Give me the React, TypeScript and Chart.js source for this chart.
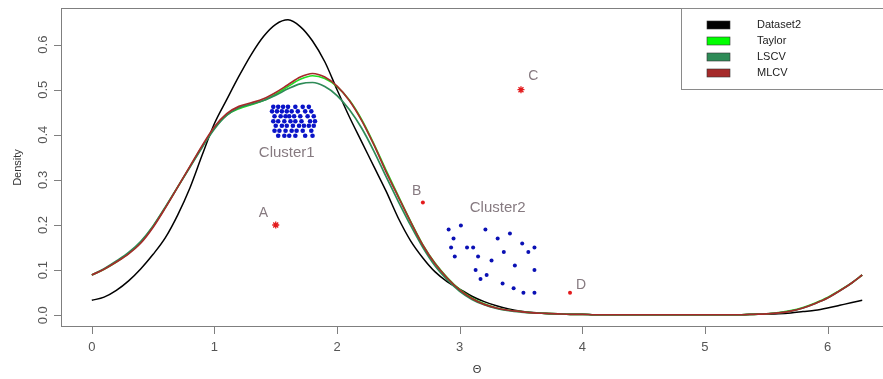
import React, { useEffect, useRef } from "react";
import { Chart, registerables } from "chart.js";
Chart.register(...registerables);

const thetaGrid = [
  0, 0.1, 0.2, 0.3, 0.4, 0.5, 0.6, 0.7, 0.8, 0.9,
  1.0, 1.1, 1.2, 1.3, 1.4, 1.5, 1.6, 1.7, 1.8, 1.9,
  2.0, 2.1, 2.2, 2.3, 2.4, 2.5, 2.6, 2.7, 2.8, 2.9,
  3.0, 3.1, 3.2, 3.3, 3.4, 3.5, 3.6, 3.7, 3.8, 3.9,
  4.0, 4.1, 4.2, 4.3, 4.4, 4.5, 4.6, 4.7, 4.8, 4.9,
  5.0, 5.1, 5.2, 5.3, 5.4, 5.5, 5.6, 5.7, 5.8, 5.9,
  6.0, 6.1, 6.2, 6.283,
];

const dataset2 = [
  0.033, 0.040, 0.055, 0.076, 0.103, 0.135, 0.172, 0.222, 0.282, 0.355,
  0.425, 0.478, 0.530, 0.578, 0.618, 0.645, 0.655, 0.640, 0.608, 0.562,
  0.500, 0.440, 0.385, 0.330, 0.275, 0.215, 0.165, 0.127, 0.096, 0.074,
  0.058, 0.042, 0.030, 0.021, 0.014, 0.009, 0.006, 0.004, 0.003, 0.002,
  0.002, 0.001, 0.001, 0.001, 0.001, 0.001, 0.001, 0.001, 0.001, 0.001,
  0.001, 0.001, 0.001, 0.001, 0.002, 0.002, 0.003, 0.005, 0.008, 0.011,
  0.016, 0.022, 0.028, 0.033,
];

const taylor = [
  0.089, 0.102, 0.118, 0.137, 0.162, 0.197, 0.239, 0.284, 0.329, 0.374,
  0.415, 0.444, 0.458, 0.467, 0.476, 0.490, 0.507, 0.523, 0.531, 0.525,
  0.507, 0.477, 0.434, 0.380, 0.321, 0.264, 0.208, 0.156, 0.115, 0.083,
  0.057, 0.038, 0.025, 0.016, 0.011, 0.008, 0.005, 0.004, 0.003, 0.002,
  0.002, 0.001, 0.001, 0.001, 0.001, 0.001, 0.001, 0.001, 0.001, 0.001,
  0.001, 0.001, 0.001, 0.001, 0.002, 0.003, 0.006, 0.010, 0.017, 0.027,
  0.039, 0.055, 0.072, 0.089,
];

const lscv = [
  0.089, 0.103, 0.120, 0.139, 0.164, 0.198, 0.240, 0.284, 0.328, 0.372,
  0.413, 0.443, 0.460, 0.468, 0.476, 0.488, 0.502, 0.513, 0.516, 0.507,
  0.487, 0.456, 0.415, 0.364, 0.307, 0.252, 0.199, 0.150, 0.109, 0.078,
  0.053, 0.035, 0.023, 0.015, 0.010, 0.007, 0.005, 0.004, 0.003, 0.002,
  0.002, 0.001, 0.001, 0.001, 0.001, 0.001, 0.001, 0.001, 0.001, 0.001,
  0.001, 0.001, 0.001, 0.001, 0.002, 0.003, 0.005, 0.009, 0.016, 0.026,
  0.038, 0.054, 0.072, 0.089,
];

const mlcv = [
  0.089, 0.102, 0.118, 0.136, 0.160, 0.195, 0.238, 0.284, 0.330, 0.376,
  0.418, 0.447, 0.463, 0.471, 0.480, 0.494, 0.511, 0.528, 0.536, 0.528,
  0.508, 0.476, 0.432, 0.378, 0.318, 0.262, 0.207, 0.155, 0.114, 0.082,
  0.056, 0.037, 0.024, 0.016, 0.011, 0.008, 0.005, 0.004, 0.003, 0.002,
  0.002, 0.001, 0.001, 0.001, 0.001, 0.001, 0.001, 0.001, 0.001, 0.001,
  0.001, 0.001, 0.001, 0.001, 0.002, 0.003, 0.005, 0.009, 0.016, 0.026,
  0.038, 0.054, 0.072, 0.089,
];

const cluster1X = [
  1.48, 1.52, 1.56, 1.60, 1.66, 1.72, 1.77,
  1.47, 1.51, 1.55, 1.59, 1.63, 1.68, 1.74, 1.79,
  1.49, 1.54, 1.58, 1.61, 1.65, 1.70, 1.76, 1.81,
  1.48, 1.52, 1.57, 1.62, 1.66, 1.71, 1.78, 1.82,
  1.50, 1.55, 1.59, 1.64, 1.69, 1.73, 1.77, 1.81,
  1.49, 1.53, 1.58, 1.63, 1.67, 1.72, 1.79,
  1.52, 1.57, 1.61, 1.66, 1.74, 1.80,
];
const cluster1Y = [
  0.462, 0.462, 0.462, 0.462, 0.462, 0.462, 0.462,
  0.452, 0.452, 0.452, 0.452, 0.452, 0.452, 0.452, 0.452,
  0.441, 0.441, 0.441, 0.441, 0.441, 0.441, 0.441, 0.441,
  0.430, 0.430, 0.430, 0.430, 0.430, 0.430, 0.430, 0.430,
  0.420, 0.420, 0.420, 0.420, 0.420, 0.420, 0.420, 0.420,
  0.409, 0.409, 0.409, 0.409, 0.409, 0.409, 0.409,
  0.398, 0.398, 0.398, 0.398, 0.398, 0.398,
];

const cluster2X = [
  2.91, 3.01, 3.21, 3.41, 2.95, 3.31, 3.51, 2.93, 3.06, 3.11, 3.36, 3.56, 3.61,
  2.96, 3.15, 3.26, 3.45, 3.13, 3.22, 3.17, 3.61, 3.35, 3.44, 3.52, 3.61,
];
const cluster2Y = [
  0.190, 0.199, 0.190, 0.181, 0.170, 0.170, 0.159, 0.150, 0.150, 0.150, 0.140, 0.140, 0.150,
  0.130, 0.130, 0.121, 0.110, 0.100, 0.089, 0.080, 0.100, 0.070, 0.060, 0.050, 0.050,
];

const outlierNames = ["A", "B", "C", "D"];
const outlierX = [1.5, 2.7, 3.5, 3.9];
const outlierY = [0.2, 0.25, 0.5, 0.05];
const outlierShapes = ["star", "circle", "star", "circle"];
const outlierLabelX = [1.40, 2.65, 3.60, 3.99];
const outlierLabelY = [0.226, 0.276, 0.529, 0.067];

const clusterNames = ["Cluster1", "Cluster2"];
const clusterLabelX = [1.59, 3.31];
const clusterLabelY = [0.36, 0.238];

const xTicks = [0, 1, 2, 3, 4, 5, 6];
const yTicks = [0, 0.1, 0.2, 0.3, 0.4, 0.5, 0.6];
const yTickLabels = ["0.0", "0.1", "0.2", "0.3", "0.4", "0.5", "0.6"];

const seriesNames = ["Dataset2", "Taylor", "LSCV", "MLCV"];
const seriesColors = ["#000000", "#22dd22", "#2e8b57", "#a52a2a"];
const legendFill = ["#000000", "#00ff00", "#2e8b57", "#a52a2a"];

const FONT = '"Liberation Sans", Arial, sans-serif';

const rPlot = {
  id: "rPlot",
  afterDraw(chart: any) {
    const { ctx, chartArea: a, scales } = chart;
    const x = scales.x;
    const y = scales.y;
    ctx.save();

    // frame
    ctx.strokeStyle = "#7f7f7f";
    ctx.lineWidth = 1;
    ctx.strokeRect(a.left + 0.5, a.top + 0.5, a.right - a.left - 1, a.bottom - a.top - 1);

    // x axis ticks + labels
    ctx.fillStyle = "#555555";
    ctx.font = "13px " + FONT;
    ctx.textAlign = "center";
    ctx.textBaseline = "middle";
    ctx.beginPath();
    for (const v of xTicks) {
      const px = Math.round(x.getPixelForValue(v)) + 0.5;
      ctx.moveTo(px, a.bottom);
      ctx.lineTo(px, a.bottom + 7);
    }
    ctx.stroke();
    for (const v of xTicks) {
      ctx.fillText(String(v), x.getPixelForValue(v), a.bottom + 20);
    }

    // y axis ticks + labels
    ctx.beginPath();
    for (const v of yTicks) {
      const py = Math.round(y.getPixelForValue(v)) + 0.5;
      ctx.moveTo(a.left - 7, py);
      ctx.lineTo(a.left, py);
    }
    ctx.stroke();
    yTicks.forEach((v, i) => {
      const py = y.getPixelForValue(v);
      ctx.save();
      ctx.translate(a.left - 18, py);
      ctx.rotate(-Math.PI / 2);
      ctx.fillText(yTickLabels[i], 0, 0);
      ctx.restore();
    });

    // axis titles
    ctx.fillStyle = "#333333";
    ctx.font = "11px " + FONT;
    ctx.fillText("\u0398", (a.left + a.right) / 2, a.bottom + 43);
    ctx.save();
    ctx.translate(18, (a.top + a.bottom) / 2);
    ctx.rotate(-Math.PI / 2);
    ctx.fillText("Density", 0, 0);
    ctx.restore();

    // annotations
    ctx.fillStyle = "#867a80";
    ctx.font = "15px " + FONT;
    clusterNames.forEach((t, i) => {
      ctx.fillText(t, x.getPixelForValue(clusterLabelX[i]), y.getPixelForValue(clusterLabelY[i]));
    });
    ctx.font = "14px " + FONT;
    outlierNames.forEach((t, i) => {
      ctx.fillText(t, x.getPixelForValue(outlierLabelX[i]), y.getPixelForValue(outlierLabelY[i]));
    });

    // legend (R style, top-right inset)
    const lx = a.right - 212;
    const ly = a.top;
    const lh = 81;
    ctx.fillStyle = "#ffffff";
    ctx.fillRect(lx, ly, a.right - lx, lh);
    ctx.strokeStyle = "#8a8a8a";
    ctx.strokeRect(lx + 0.5, ly + 0.5, a.right - lx - 1, lh);
    ctx.font = "11px " + FONT;
    ctx.textAlign = "left";
    seriesNames.forEach((name, i) => {
      const cy = ly + 17 + i * 16;
      ctx.fillStyle = legendFill[i];
      ctx.fillRect(lx + 26, cy - 4, 23, 8);
      ctx.strokeStyle = "#333333";
      ctx.lineWidth = 0.6;
      ctx.strokeRect(lx + 26, cy - 4, 23, 8);
      ctx.fillStyle = "#222222";
      ctx.fillText(name, lx + 76, cy);
    });

    ctx.restore();
  },
};

export default function App() {
  const ref = useRef<HTMLCanvasElement | null>(null);

  useEffect(() => {
    if (!ref.current) return;
    const lineSets = [dataset2, taylor, lscv, mlcv].map((vals, i) => ({
      type: "line" as const,
      label: seriesNames[i],
      data: thetaGrid.map((t, k) => ({ x: t, y: vals[k] })),
      borderColor: seriesColors[i],
      borderWidth: i === 0 ? 1.5 : 1.7,
      pointRadius: 0,
      fill: false,
      cubicInterpolationMode: "monotone" as const,
      order: 10 - i,
    }));
    const chart = new Chart(ref.current, {
      type: "scatter",
      data: {
        datasets: [
          ...lineSets,
          {
            label: "cluster1",
            data: cluster1X.map((v, k) => ({ x: v, y: cluster1Y[k] })),
            backgroundColor: "#0a14c8",
            borderColor: "#0a14c8",
            borderWidth: 0,
            pointRadius: 2.3,
            order: 1,
          },
          {
            label: "cluster2",
            data: cluster2X.map((v, k) => ({ x: v, y: cluster2Y[k] })),
            backgroundColor: "#0a10b4",
            borderColor: "#0a10b4",
            borderWidth: 0,
            pointRadius: 2,
            order: 1,
          },
          {
            label: "outliers",
            data: outlierX.map((v, k) => ({ x: v, y: outlierY[k] })),
            backgroundColor: "#e31a1c",
            borderColor: "#e31a1c",
            borderWidth: outlierShapes.map((s) => (s === "star" ? 1.3 : 0)),
            pointStyle: outlierShapes as any,
            pointRadius: outlierShapes.map((s) => (s === "star" ? 3.5 : 2)),
            order: 0,
          },
        ] as any,
      },
      options: {
        animation: false,
        responsive: false,
        devicePixelRatio: 1,
        events: [],
        layout: { padding: { left: 61, top: 8, right: 7, bottom: 52 } },
        scales: {
          x: { type: "linear", min: -0.2513, max: 6.534, display: false },
          y: { type: "linear", min: -0.0262, max: 0.6812, display: false },
        },
        plugins: {
          legend: { display: false },
          tooltip: { enabled: false },
        },
      },
      plugins: [rPlot],
    });
    return () => chart.destroy();
  }, []);

  return (
    <div
      style={{
        position: "fixed",
        left: 0,
        top: 0,
        width: 883,
        height: 379,
        overflow: "hidden",
        background: "#ffffff",
      }}
    >
      <canvas ref={ref} width={900} height={379} style={{ display: "block", width: 900, height: 379 }} />
    </div>
  );
}
